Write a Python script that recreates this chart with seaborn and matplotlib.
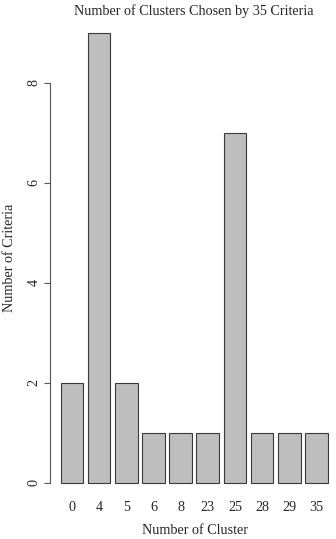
import matplotlib
matplotlib.use('Agg')
import matplotlib.pyplot as plt
import seaborn as sns
import pandas as pd

# data
clusters = ['0', '4', '5', '6', '8', '23', '25', '28', '29', '35']
n_criteria = [2, 9, 2, 1, 1, 1, 7, 1, 1, 1]
yticks = [0, 2, 4, 6, 8]

df = pd.DataFrame({'cluster': clusters, 'count': n_criteria})

sns.set_style('white')
plt.rcParams['font.family'] = ['Liberation Serif', 'DejaVu Serif']

W, H = 336, 539
fig = plt.figure(figsize=(W / 100, H / 100), dpi=100)
# plot region in pixels: x 50..336, y 14.7..500.7 (from top)
ax = fig.add_axes([50 / W, (H - 500.7) / H, (W - 50) / W, (500.7 - 14.7) / H])

sns.barplot(data=df, x='cluster', y='count', order=clusters, color='#BEBEBE',
            saturation=1, width=0.833, edgecolor='#3a3a3a', linewidth=0.8, ax=ax)

ax.set_xlim(-0.81, 9.72)
ax.set_ylim(-0.36, 9.36)
for s in ['top', 'right', 'bottom']:
    ax.spines[s].set_visible(False)
ax.spines['left'].set_bounds(0, 8)
ax.spines['left'].set_color('#555555')
ax.spines['left'].set_linewidth(0.8)
ax.set_yticks(yticks)
ax.set_yticklabels([str(t) for t in yticks], rotation=90, va='center', fontsize=10.2)
ax.tick_params(axis='y', direction='out', length=4, width=0.8, color='#555555', pad=3, left=True)
ax.tick_params(axis='x', length=0, pad=0.5, labelsize=10.2)
ax.set_xlabel('')
ax.set_ylabel('')

fig.text(194 / W, 1 - 11 / H, 'Number of Clusters Chosen by 35 Criteria',
         ha='center', va='center', fontsize=10.2)
fig.text(195 / W, 1 - 530 / H, 'Number of Cluster', ha='center', va='center', fontsize=10.2)
fig.text(9.5 / W, 1 - 258 / H, 'Number of Criteria', ha='center', va='center',
         rotation=90, fontsize=10.2)

fig.savefig('out.png', dpi=100)
